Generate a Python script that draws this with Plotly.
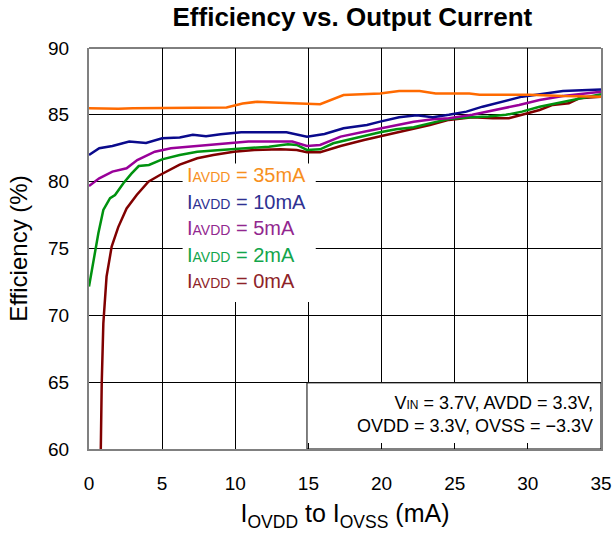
import plotly.graph_objects as go

# ---- data ----
x_35 = [0, 1, 2, 3, 4, 5, 6, 7, 8, 9, 9.4, 10.5, 11.5, 13, 14.9, 15.4, 15.8, 17.4, 19.9, 21.2, 22.6, 23.7, 26, 26.7, 30.1, 32.4, 35]
y_35 = [85.5, 85.45, 85.45, 85.5, 85.5, 85.55, 85.5, 85.5, 85.5, 85.5, 85.55, 85.85, 85.98, 85.9, 85.86, 85.8, 85.8, 86.48, 86.6, 86.78, 86.78, 86.6, 86.6, 86.5, 86.5, 86.4, 86.36]

x_10 = [0, 0.7, 1.6, 2.75, 3.9, 5.0, 6.2, 7.1, 8.0, 9.0, 10.4, 13.5, 14.9, 16.1, 17.4, 19.0, 19.9, 21.2, 22.4, 23.5, 24.6, 25.8, 26.9, 28.3, 29.6, 31.2, 32.4, 35]
y_10 = [82.0, 82.5, 82.67, 83.0, 82.9, 83.24, 83.3, 83.5, 83.4, 83.55, 83.69, 83.69, 83.37, 83.57, 84.0, 84.24, 84.49, 84.82, 84.96, 84.82, 85.0, 85.24, 85.61, 85.98, 86.36, 86.6, 86.78, 86.9]

x_5 = [0, 0.7, 1.6, 2.57, 3.3, 4.5, 5.6, 7.5, 9.3, 10.9, 13.9, 14.9, 15.8, 17.2, 18.8, 20.3, 22.2, 23.5, 24.6, 26.2, 27.8, 29.4, 30.8, 32.4, 35]
y_5 = [79.68, 80.25, 80.75, 81.0, 81.62, 82.24, 82.5, 82.67, 82.82, 83.0, 83.0, 82.67, 82.75, 83.37, 83.74, 84.07, 84.49, 84.67, 84.74, 85.0, 85.36, 85.74, 86.11, 86.41, 86.73]

x_2 = [0, 0.3, 0.64, 0.98, 1.44, 1.78, 2.35, 2.9, 3.4, 4.1, 5.0, 6.2, 7.4, 9.0, 10.9, 12.3, 13.6, 14.2, 14.9, 15.8, 16.7, 18.3, 19.9, 21.0, 22.2, 23.5, 24.6, 26.0, 27.3, 28.5, 29.6, 30.8, 32.4, 35]
y_2 = [72.15, 74.14, 76.14, 77.88, 78.76, 79.0, 79.88, 80.6, 81.17, 81.25, 81.67, 82.0, 82.24, 82.37, 82.5, 82.62, 82.8, 82.75, 82.37, 82.42, 82.87, 83.3, 83.69, 83.92, 84.07, 84.42, 84.69, 84.82, 84.87, 85.0, 85.24, 85.61, 85.98, 86.55]

x_0 = [0.78, 0.8, 0.87, 0.98, 1.2, 1.55, 2.0, 2.57, 3.26, 4.06, 4.85, 6.2, 7.4, 8.5, 9.9, 11.3, 13.1, 14.2, 14.9, 15.8, 17.2, 18.8, 20.3, 21.7, 23.3, 24.6, 26.2, 27.6, 28.7, 29.6, 30.8, 31.7, 32.8, 33.5, 35]
y_0 = [58.0, 60.0, 64.92, 69.4, 72.9, 75.14, 76.6, 78.0, 79.0, 80.0, 80.5, 81.28, 81.75, 82.0, 82.24, 82.37, 82.42, 82.37, 82.2, 82.2, 82.67, 83.12, 83.5, 83.82, 84.24, 84.62, 84.82, 84.74, 84.74, 85.0, 85.36, 85.74, 85.86, 86.24, 86.36]

series_names = ["35mA", "10mA", "5mA", "2mA", "0mA"]
line_colors = ["#FF6A00", "#0A0A8C", "#990099", "#00920F", "#800000"]
text_colors = ["#F7901E", "#2E3192", "#92278F", "#12A54B", "#8E2328"]
xs = [x_35, x_10, x_5, x_2, x_0]
ys = [y_35, y_10, y_5, y_2, y_0]

x_ticks = [0, 5, 10, 15, 20, 25, 30, 35]
y_ticks = [60, 65, 70, 75, 80, 85, 90]

FONT = "Liberation Sans, Arial, sans-serif"

fig = go.Figure()
# draw in reverse so the top curves sit above
for i in reversed(range(5)):
    fig.add_trace(go.Scatter(x=xs[i], y=ys[i], mode="lines",
                             line=dict(color=line_colors[i], width=2.5),
                             name=series_names[i], showlegend=False))

# white boxes (legend text box, conditions box)
fig.add_shape(type="rect", xref="x", yref="y", x0=6.4, x1=15.5, y0=71.0, y1=81.35,
              fillcolor="white", line=dict(width=0), layer="between")
fig.add_shape(type="rect", xref="x", yref="y", x0=14.9, x1=35, y0=60, y1=64.95,
              fillcolor="white", line=dict(color="black", width=1), layer="between")
# top frame line
fig.add_shape(type="line", xref="paper", yref="paper", x0=0, x1=1, y0=1, y1=1,
              line=dict(color="black", width=1))

label_y = [80.5, 78.5, 76.5, 74.55, 72.55]
for i in range(5):
    fig.add_annotation(x=6.55, y=label_y[i], xref="x", yref="y", xanchor="left", yanchor="middle",
                       showarrow=False,
                       text="I<span style='font-size:14px'>AVDD</span> = " + series_names[i],
                       font=dict(family=FONT, size=20, color=text_colors[i]))

fig.add_annotation(x=34.6, y=62.55, xref="x", yref="y", xanchor="right", yanchor="middle",
                   showarrow=False, align="right",
                   text="V<span style='font-size:12px'>IN</span> = 3.7V, AVDD = 3.3V,<br>OVDD = 3.3V, OVSS = \u22123.3V",
                   font=dict(family=FONT, size=18, color="black"))

fig.update_layout(
    width=615, height=538,
    margin=dict(l=89, r=14, t=48, b=89),
    paper_bgcolor="white", plot_bgcolor="white",
    title=dict(text="<b>Efficiency vs. Output Current</b>", x=0.573, xanchor="center",
               y=0.968, yanchor="middle", font=dict(family=FONT, size=26, color="black")),
    font=dict(family=FONT, color="black"),
)
fig.update_xaxes(range=[0, 35], tickvals=x_ticks, ticktext=[str(v) for v in x_ticks],
                 automargin=False,
                 showgrid=True, gridcolor="black", gridwidth=1,
                 showline=True, linecolor="#808080", linewidth=2,
                 ticks="inside", ticklen=6, tickcolor="black",
                 tickfont=dict(family=FONT, size=19), ticklabelstandoff=16,
                 title=dict(text="I<sub>OVDD</sub> to I<sub>OVSS</sub> (mA)",
                            font=dict(family=FONT, size=25), standoff=12),
                 zeroline=False)
fig.update_yaxes(range=[60, 90], tickvals=y_ticks, ticktext=[str(v) for v in y_ticks],
                 automargin=False,
                 showgrid=True, gridcolor="black", gridwidth=1,
                 showline=True, linecolor="#808080", linewidth=2, mirror=True,
                 ticks="inside", ticklen=5, tickcolor="black",
                 tickfont=dict(family=FONT, size=19), ticklabelstandoff=14,
                 title=dict(text="Efficiency (%)", font=dict(family=FONT, size=24), standoff=14),
                 zeroline=False)

fig.write_html("out.html")
